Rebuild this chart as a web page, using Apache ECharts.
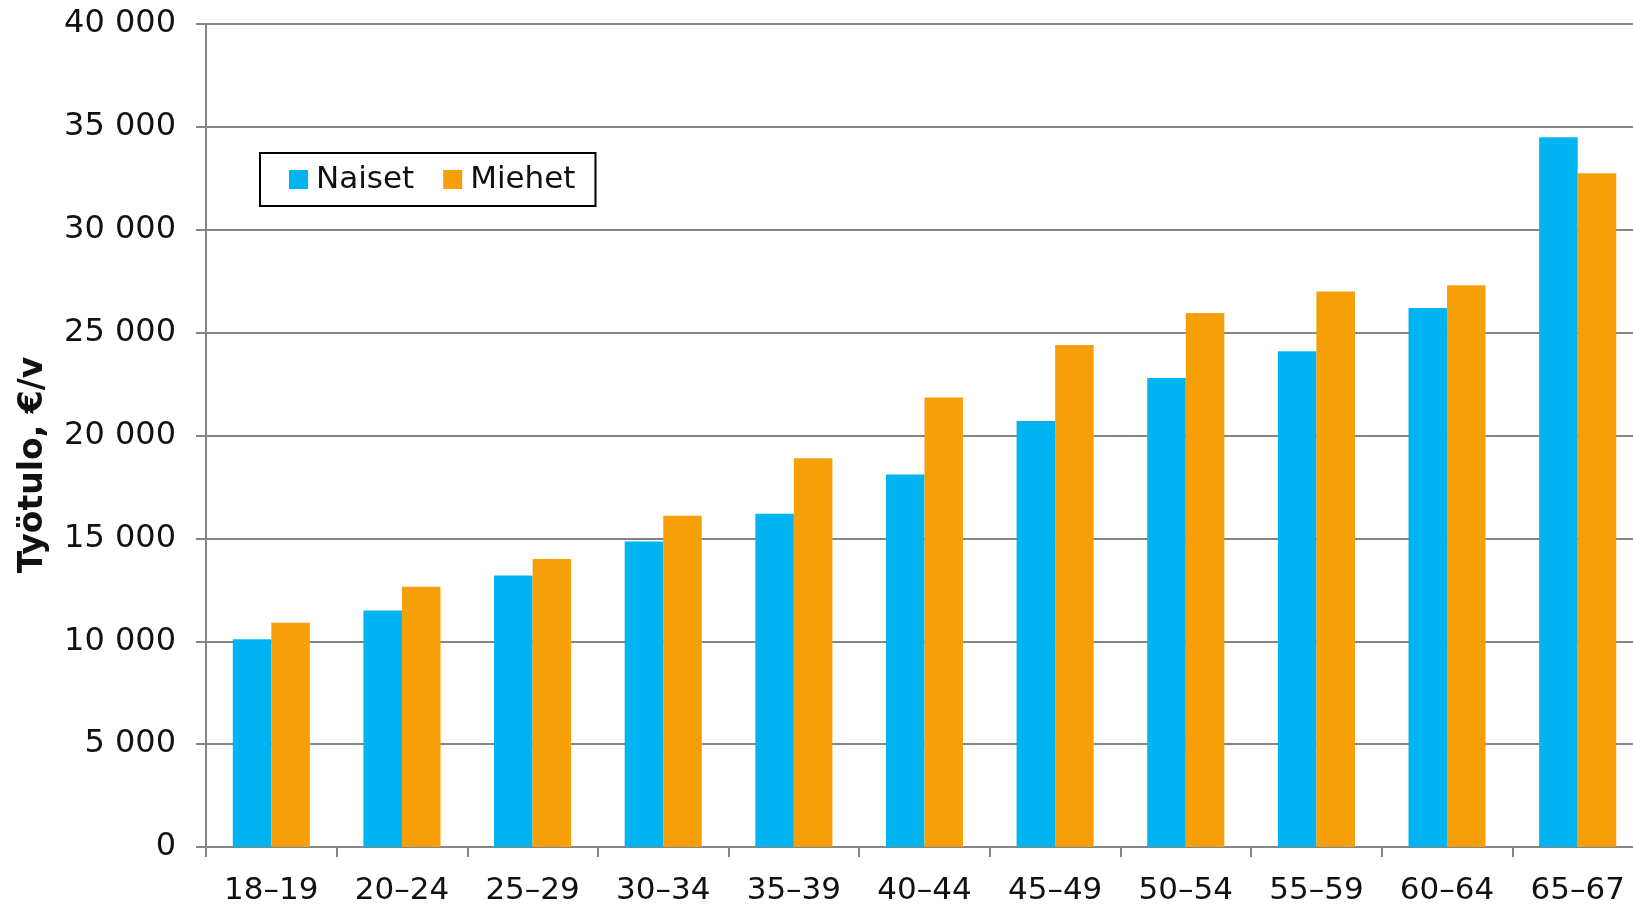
<!DOCTYPE html>
<html>
<head>
<meta charset="utf-8">
<script src="https://cdn.jsdelivr.net/npm/echarts@6/dist/echarts.min.js"></script>
<style>
  html, body { margin: 0; padding: 0; background: #fff; overflow: hidden; }
  /* kuvaaja jatkuu hieman oikean reunan yli, kuten alkuperäisessä */
  #chart { width: 1643px; height: 906px; }
</style>
</head>
<body>
<div id="chart"></div>
<script>
// ikäryhmät ja keskimääräinen työtulo (€/v)
var ageGroups = ['18–19', '20–24', '25–29', '30–34', '35–39', '40–44', '45–49', '50–54', '55–59', '60–64', '65–67']
var naiset = [10100, 11500, 13200, 14850, 16200, 18100, 20700, 22800, 24100, 26200, 34500]
var miehet = [10900, 12650, 14000, 16100, 18900, 21850, 24400, 25950, 27000, 27300, 32750]
var yTicks = [0, 5000, 10000, 15000, 20000, 25000, 30000, 35000, 40000]

var font = 'DejaVu Sans'
var gridColor = '#858585'

function fmt (v) {
  return String(v).replace(/\B(?=(\d{3})+(?!\d))/g, ' ')
}

var chart = echarts.init(document.getElementById('chart'))
var option = {
  animation: false,
  backgroundColor: '#fff',
  textStyle: { fontFamily: font },
  grid: {
    left: 206,
    top: 24,
    right: 0,
    bottom: 59,
    containLabel: false
  },
  legend: {
    left: 260,
    top: 153,
    orient: 'horizontal',
    backgroundColor: '#fff',
    borderColor: '#000',
    borderWidth: 2,
    borderRadius: 0,
    padding: [11, 20, 11, 29],
    itemGap: 29,
    itemWidth: 19,
    itemHeight: 19,
    icon: 'rect',
    textStyle: {
      fontFamily: font,
      fontSize: 31,
      color: '#111',
      padding: [0, 0, 0, 3]
    },
    data: ['Naiset', 'Miehet']
  },
  xAxis: {
    type: 'category',
    data: ageGroups,
    axisLine: { show: true, lineStyle: { color: gridColor, width: 2 } },
    axisTick: { show: true, length: 10, lineStyle: { color: gridColor, width: 2 } },
    axisLabel: {
      fontFamily: font,
      fontSize: 31,
      color: '#111',
      margin: 28,
      interval: 0
    },
    splitLine: { show: false }
  },
  yAxis: {
    type: 'value',
    min: 0,
    max: yTicks[yTicks.length - 1],
    interval: yTicks[1] - yTicks[0],
    axisLine: { show: true, lineStyle: { color: gridColor, width: 2 } },
    axisTick: { show: true, inside: false, length: 10, lineStyle: { color: gridColor, width: 2 } },
    axisLabel: {
      fontFamily: font,
      fontSize: 32,
      color: '#111',
      margin: 30,
      formatter: fmt
    },
    splitLine: { show: true, lineStyle: { color: gridColor, width: 2 } }
  },
  graphic: [{
    type: 'text',
    x: 33,
    y: 465,
    rotation: Math.PI / 2,
    style: {
      text: 'Työtulo, €/v',
      font: 'bold 33px "DejaVu Sans"',
      fill: '#111',
      align: 'center',
      verticalAlign: 'middle'
    }
  }],
  series: [
    {
      name: 'Naiset',
      type: 'bar',
      data: naiset,
      barGap: '0%',
      barCategoryGap: '41%',
      itemStyle: { color: '#00b4f2' }
    },
    {
      name: 'Miehet',
      type: 'bar',
      data: miehet,
      barGap: '0%',
      barCategoryGap: '41%',
      itemStyle: { color: '#f69f08' }
    }
  ]
}
chart.setOption(option)
</script>
</body>
</html>
